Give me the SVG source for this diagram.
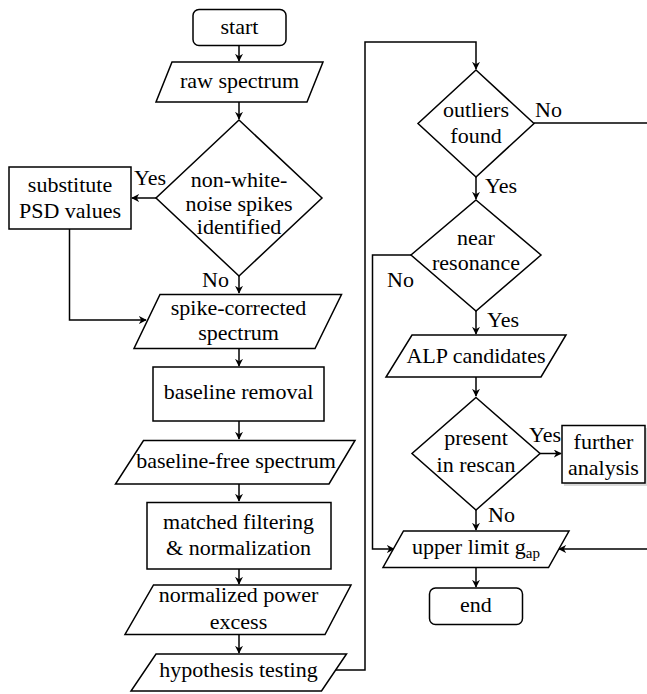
<svg xmlns="http://www.w3.org/2000/svg" width="647" height="694" viewBox="0 0 647 694">
<defs>
<style>
.s{fill:#fff;stroke:#000;stroke-width:1.5}
.c{fill:none;stroke:#000;stroke-width:1.5}
text{font-size:22px;fill:#000;font-family:"Liberation Serif","Times New Roman",Times,Tinos,"Noto Serif","DejaVu Serif",FreeSerif,Georgia,serif}
.m{text-anchor:middle}
.sub{font-size:15px}
</style>
<marker id="a" viewBox="0 0 10 10" refX="9" refY="5" markerWidth="8" markerHeight="8" markerUnits="userSpaceOnUse" orient="auto">
<path d="M0,0 L10,5 L0,10 L3,5 z" fill="#000"/>
</marker>
</defs>
<rect width="647" height="694" fill="#fff"/>
<g id="connectors">
<path class="c" d="M239,45.7 V61" marker-end="url(#a)"/>
<path class="c" d="M239,102 V119" marker-end="url(#a)"/>
<path class="c" d="M156,198 H132" marker-end="url(#a)"/>
<path class="c" d="M239,276 V293" marker-end="url(#a)"/>
<path class="c" d="M69.5,229 V320 H146" marker-end="url(#a)"/>
<path class="c" d="M239,348 V366" marker-end="url(#a)"/>
<path class="c" d="M239,421 V439" marker-end="url(#a)"/>
<path class="c" d="M239,484 V501" marker-end="url(#a)"/>
<path class="c" d="M239,569 V584" marker-end="url(#a)"/>
<path class="c" d="M239,634 V653" marker-end="url(#a)"/>
<path class="c" d="M336,670 H365 V42 H476 V69" marker-end="url(#a)"/>
<path class="c" d="M534,123 H650 V549 H559" marker-end="url(#a)"/>
<path class="c" d="M476,177 V199" marker-end="url(#a)"/>
<path class="c" d="M411,255 H372.5 V549 H394" marker-end="url(#a)"/>
<path class="c" d="M476,311 V334" marker-end="url(#a)"/>
<path class="c" d="M476,377 V396" marker-end="url(#a)"/>
<path class="c" d="M540,453.5 H561" marker-end="url(#a)"/>
<path class="c" d="M476,510 V530" marker-end="url(#a)"/>
<path class="c" d="M476,567 V587" marker-end="url(#a)"/>
<text x="134" y="185">Yes</text>
<text x="202" y="287">No</text>
<text x="535" y="117">No</text>
<text x="485" y="193">Yes</text>
<text x="387" y="287">No</text>
<text x="487" y="327">Yes</text>
<text x="529" y="442">Yes</text>
<text x="488" y="522">No</text>
</g>
<g id="start">
<rect class="s" x="193" y="9.5" width="93" height="36" rx="6"/>
<text class="m" x="239.5" y="33.5">start</text>
</g>
<g id="raw-spectrum">
<polygon class="s" points="172,62 323,62 307,102 156,102"/>
<text class="m" x="239.5" y="87.5">raw spectrum</text>
</g>
<g id="spikes-decision">
<polygon class="s" points="239,120 322,198 239,276 156,198"/>
<text class="m" x="239" y="186.5">non-white-</text>
<text class="m" x="239" y="210.5">noise spikes</text>
<text class="m" x="239" y="234">identified</text>
</g>
<g id="substitute">
<rect class="s" x="9" y="167" width="122" height="62"/>
<text class="m" x="70" y="191.5">substitute</text>
<text class="m" x="70" y="218">PSD values</text>
</g>
<g id="spike-corrected">
<polygon class="s" points="160,294.5 341.5,294.5 315,348.5 134,348.5"/>
<text class="m" x="238.5" y="315">spike-corrected</text>
<text class="m" x="238.5" y="340">spectrum</text>
</g>
<g id="baseline-removal">
<rect class="s" x="153" y="367" width="171" height="54"/>
<text class="m" x="238.5" y="399">baseline removal</text>
</g>
<g id="baseline-free">
<polygon class="s" points="143.5,440.5 355,440.5 329,484 115.5,484"/>
<text class="m" x="236" y="467.5">baseline-free spectrum</text>
</g>
<g id="matched-filtering">
<rect class="s" x="147" y="502.5" width="184" height="66.5"/>
<text class="m" x="238.5" y="528.5">matched filtering</text>
<text class="m" x="238.5" y="555">&amp; normalization</text>
</g>
<g id="normalized-power">
<polygon class="s" points="153.5,585 351,585 325,634.5 125,634.5"/>
<text class="m" x="238.5" y="602">normalized power</text>
<text class="m" x="238.5" y="629">excess</text>
</g>
<g id="hypothesis">
<polygon class="s" points="156,654 346.5,654 321.5,691 131,691"/>
<text class="m" x="238.5" y="677">hypothesis testing</text>
</g>
<g id="outliers-decision">
<polygon class="s" points="476,70 534,123.5 476,177 418,123.5"/>
<text class="m" x="476" y="117">outliers</text>
<text class="m" x="476" y="143">found</text>
</g>
<g id="resonance-decision">
<polygon class="s" points="476,200 541,255 476,311 411,255"/>
<text class="m" x="476" y="245">near</text>
<text class="m" x="476" y="269.5">resonance</text>
</g>
<g id="alp-candidates">
<polygon class="s" points="412,335 566,335 541,377 386,377"/>
<text class="m" x="476" y="363">ALP candidates</text>
</g>
<g id="rescan-decision">
<polygon class="s" points="476,397.5 540,453.5 476,510 412,453.5"/>
<text class="m" x="476" y="445">present</text>
<text class="m" x="476" y="471.5">in rescan</text>
</g>
<g id="further-analysis">
<rect x="564" y="428" width="84" height="58" fill="#d8d8d8"/>
<rect class="s" x="562" y="425.5" width="83" height="57.5"/>
<text class="m" x="603.5" y="448.5">further</text>
<text class="m" x="603.5" y="474.5">analysis</text>
</g>
<g id="upper-limit">
<polygon class="s" points="403.5,531 569,531 548.5,567.5 383,567.5"/>
<text class="m" x="476" y="553.5">upper limit g<tspan class="sub" dy="4">ap</tspan></text>
</g>
<g id="end">
<rect class="s" x="429.5" y="588" width="93" height="36.5" rx="6"/>
<text class="m" x="476" y="611.5">end</text>
</g>
</svg>
